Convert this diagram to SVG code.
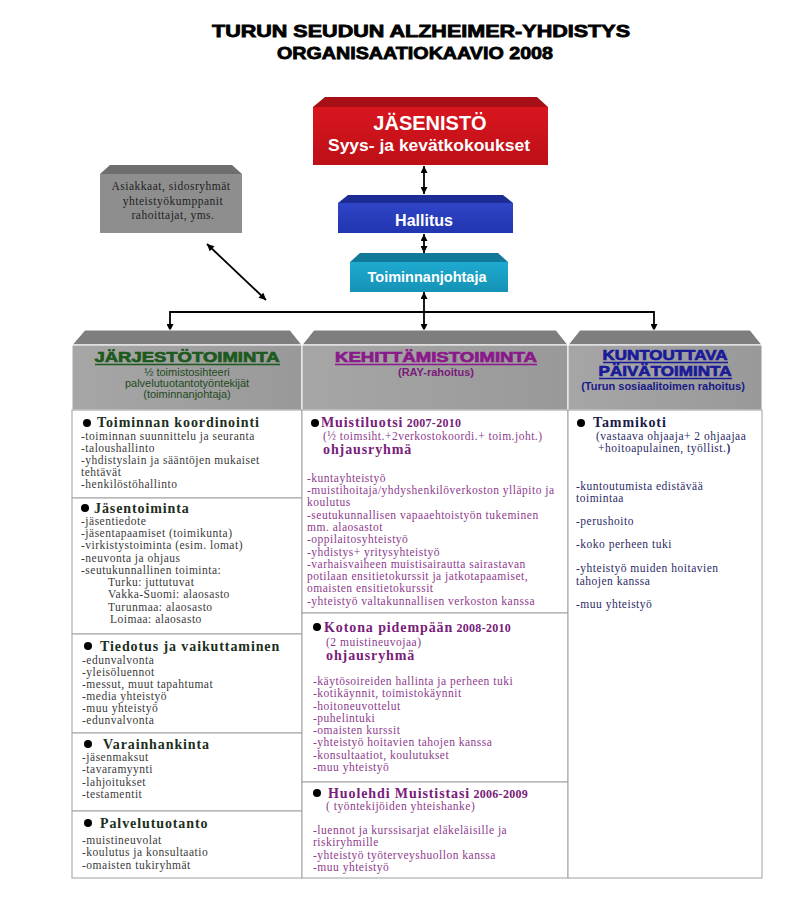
<svg xmlns="http://www.w3.org/2000/svg" width="800" height="915" viewBox="0 0 800 915">
<defs>
<marker id="ah" viewBox="0 0 10 10" refX="10" refY="5" markerWidth="8" markerHeight="7" markerUnits="userSpaceOnUse" orient="auto-start-reverse">
<path d="M0,0 L10,5 L0,10 z" fill="#000"/>
</marker>
<linearGradient id="gred" x1="0" y1="0" x2="0" y2="1"><stop offset="0" stop-color="#d8161f"/><stop offset="1" stop-color="#bd0f17"/></linearGradient>
<linearGradient id="gblue" x1="0" y1="0" x2="0" y2="1"><stop offset="0" stop-color="#2f45c8"/><stop offset="1" stop-color="#2235b0"/></linearGradient>
<linearGradient id="gteal" x1="0" y1="0" x2="0" y2="1"><stop offset="0" stop-color="#1eaad0"/><stop offset="1" stop-color="#1592b6"/></linearGradient>
<linearGradient id="ggray" x1="0" y1="0" x2="1" y2="0"><stop offset="0" stop-color="#a6a6a6"/><stop offset="1" stop-color="#999"/></linearGradient>
</defs>
<style>
.title{font-family:"Liberation Sans",Arial,sans-serif;font-weight:bold;font-size:17px;fill:#000;stroke:#000;stroke-width:0.8px}
.wb{font-family:"Liberation Sans",Arial,sans-serif;font-weight:bold;fill:#fff;text-anchor:middle}
.hd{font-family:"Liberation Sans",Arial,sans-serif;font-weight:bold;font-size:15px;text-anchor:middle;stroke-width:0.7px}
.hs{font-family:"Liberation Sans",Arial,sans-serif;font-size:11px;text-anchor:middle}
.sec{fill:#fff;stroke:#a0a0a0;stroke-width:1}
.hf{fill:url(#ggray);stroke:#fff;stroke-width:1}
.ht{fill:#7e7e7e;stroke:#fff;stroke-width:1}
.b{font-family:"Liberation Serif","Times New Roman",serif;font-size:11.5px;letter-spacing:0.5px}
.h{font-family:"Liberation Serif","Times New Roman",serif;font-size:14px;font-weight:bold;letter-spacing:0.9px}
.hy{font-size:12px;letter-spacing:0.3px}
.lb{fill:#3a3a3a}.lh{fill:#1c2e1c}
.mb{fill:#8e3b8e}.mh{fill:#78207a}
.rb{fill:#2b2b66}.rh{fill:#1a1a48}
.con{stroke:#000;stroke-width:1.8;fill:none}
</style>

<g id="title">
<text class="title" x="421" y="37" text-anchor="middle" textLength="418" lengthAdjust="spacingAndGlyphs">TURUN SEUDUN ALZHEIMER-YHDISTYS</text>
<text class="title" x="415" y="59" text-anchor="middle" textLength="276" lengthAdjust="spacingAndGlyphs">ORGANISAATIOKAAVIO 2008</text>
</g>

<g id="jasenisto">
<polygon points="325,97 537,97 548,107 313,107" fill="#a50f15"/>
<rect x="313" y="107" width="235" height="58" fill="url(#gred)"/>
<text class="wb" x="430" y="130" font-size="20">JÄSENISTÖ</text>
<text class="wb" x="429" y="151" font-size="17" textLength="202" lengthAdjust="spacingAndGlyphs">Syys- ja kevätkokoukset</text>
</g>

<g id="hallitus">
<polygon points="348,195 503,195 513,203 338,203" fill="#1c2c95"/>
<rect x="338" y="203" width="175" height="30" fill="url(#gblue)"/>
<text class="wb" x="424" y="226" font-size="16">Hallitus</text>
</g>

<g id="toiminnanjohtaja">
<polygon points="360,253 498,253 508,262 350,262" fill="#127a98"/>
<rect x="350" y="262" width="158" height="30" fill="url(#gteal)"/>
<text class="wb" x="427" y="282" font-size="14.5">Toiminnanjohtaja</text>
</g>

<g id="sidosryhmat">
<polygon points="110,165 232,165 242,174 100,174" fill="#6e6e6e"/>
<rect x="100" y="174" width="142" height="59" fill="#8e8e8e"/>
<text class="b" x="171" y="190" text-anchor="middle" font-size="13.5" letter-spacing="0.2" fill="#1e1e1e">Asiakkaat, sidosryhmät</text>
<text class="b" x="173" y="205" text-anchor="middle" font-size="13.5" letter-spacing="0.2" fill="#1e1e1e">yhteistyökumppanit</text>
<text class="b" x="173" y="219" text-anchor="middle" font-size="13.5" letter-spacing="0.2" fill="#1e1e1e">rahoittajat, yms.</text>
</g>

<g id="connectors">
<line class="con" x1="424" y1="166" x2="424" y2="194" marker-start="url(#ah)" marker-end="url(#ah)"/>
<line class="con" x1="424" y1="234" x2="424" y2="253" marker-start="url(#ah)" marker-end="url(#ah)"/>
<line class="con" x1="424" y1="292" x2="424" y2="331" marker-start="url(#ah)" marker-end="url(#ah)"/>
<line class="con" x1="170" y1="312" x2="654" y2="312"/>
<line class="con" x1="170" y1="311" x2="170" y2="331" marker-end="url(#ah)"/>
<line class="con" x1="654" y1="311" x2="654" y2="331" marker-end="url(#ah)"/>
<line class="con" x1="207" y1="244" x2="266" y2="300" stroke-width="1.2" marker-start="url(#ah)" marker-end="url(#ah)"/>
</g>

<g id="jarjestotoiminta">
<polygon class="ht" points="85,330 290,330 302,345 72,345"/>
<rect class="hf" x="72" y="345" width="230" height="65"/>
<text class="hd" x="187" y="362" fill="#1d5a1d" stroke="#1d5a1d" textLength="185" lengthAdjust="spacingAndGlyphs">JÄRJESTÖTOIMINTA</text>
<line x1="95" y1="364.5" x2="280" y2="364.5" stroke="#1d5a1d" stroke-width="1.3"/>
<text class="hs" x="187" y="376" fill="#1d4a1d">½ toimistosihteeri</text>
<text class="hs" x="187" y="387" fill="#1d4a1d">palvelutuotantotyöntekijät</text>
<text class="hs" x="187" y="398" fill="#1d4a1d">(toiminnanjohtaja)</text>
</g>

<g id="kehittamistoiminta">
<polygon class="ht" points="314,330 556,330 568,345 302,345"/>
<rect class="hf" x="302" y="345" width="266" height="65"/>
<text class="hd" x="436" y="362" fill="#8a1a8a" stroke="#8a1a8a" textLength="202" lengthAdjust="spacingAndGlyphs">KEHITTÄMISTOIMINTA</text>
<line x1="335" y1="364.5" x2="537" y2="364.5" stroke="#8a1a8a" stroke-width="1.3"/>
<text class="hs" x="436" y="376" fill="#7a1a7a" font-weight="bold">(RAY-rahoitus)</text>
</g>

<g id="kuntouttava">
<polygon class="ht" points="580,330 750,330 762,345 568,345"/>
<rect class="hf" x="568" y="345" width="194" height="65"/>
<text class="hd" x="665" y="360" fill="#1a1a99" stroke="#1a1a99" textLength="125" lengthAdjust="spacingAndGlyphs">KUNTOUTTAVA</text>
<line x1="603" y1="362.5" x2="728" y2="362.5" stroke="#1a1a99" stroke-width="1.3"/>
<text class="hd" x="665" y="376" fill="#1a1a99" stroke="#1a1a99" textLength="133" lengthAdjust="spacingAndGlyphs">PÄIVÄTOIMINTA</text>
<line x1="599" y1="378.5" x2="732" y2="378.5" stroke="#1a1a99" stroke-width="1.3"/>
<text class="hs" x="663" y="390" fill="#1a1a88" font-weight="bold">(Turun sosiaalitoimen rahoitus)</text>
</g>

<g id="koordinointi">
<rect class="sec" x="72" y="410" width="230" height="88"/>
<circle cx="87" cy="423" r="4" fill="#000"/>
<text class="h lh" x="97" y="427">Toiminnan koordinointi</text>
<text class="b lb" x="81" y="440">-toiminnan suunnittelu ja seuranta</text>
<text class="b lb" x="81" y="452">-taloushallinto</text>
<text class="b lb" x="81" y="464">-yhdistyslain ja sääntöjen mukaiset</text>
<text class="b lb" x="81" y="476">tehtävät</text>
<text class="b lb" x="81" y="488">-henkilöstöhallinto</text>
</g>

<g id="jasentoiminta">
<rect class="sec" x="72" y="498" width="230" height="136"/>
<circle cx="85" cy="508" r="4" fill="#000"/>
<text class="h lh" x="94" y="513">Jäsentoiminta</text>
<text class="b lb" x="81" y="525">-jäsentiedote</text>
<text class="b lb" x="81" y="537">-jäsentapaamiset (toimikunta)</text>
<text class="b lb" x="81" y="549">-virkistystoiminta (esim. lomat)</text>
<text class="b lb" x="81" y="562">-neuvonta ja ohjaus</text>
<text class="b lb" x="81" y="574">-seutukunnallinen toiminta:</text>
<text class="b lb" x="108" y="586">Turku: juttutuvat</text>
<text class="b lb" x="108" y="598">Vakka-Suomi: alaosasto</text>
<text class="b lb" x="108" y="611">Turunmaa: alaosasto</text>
<text class="b lb" x="110" y="623">Loimaa: alaosasto</text>
</g>

<g id="tiedotus">
<rect class="sec" x="72" y="634" width="230" height="99"/>
<circle cx="88" cy="646" r="4" fill="#000"/>
<text class="h lh" x="100" y="651">Tiedotus ja vaikuttaminen</text>
<text class="b lb" x="82" y="664">-edunvalvonta</text>
<text class="b lb" x="82" y="676">-yleisöluennot</text>
<text class="b lb" x="82" y="688">-messut, muut tapahtumat</text>
<text class="b lb" x="82" y="700">-media yhteistyö</text>
<text class="b lb" x="82" y="712">-muu yhteistyö</text>
<text class="b lb" x="82" y="724">-edunvalvonta</text>
</g>

<g id="varainhankinta">
<rect class="sec" x="72" y="733" width="230" height="78"/>
<circle cx="88" cy="744" r="4" fill="#000"/>
<text class="h lh" x="103" y="749">Varainhankinta</text>
<text class="b lb" x="82" y="761">-jäsenmaksut</text>
<text class="b lb" x="82" y="773">-tavaramyynti</text>
<text class="b lb" x="82" y="786">-lahjoitukset</text>
<text class="b lb" x="82" y="798">-testamentit</text>
</g>

<g id="palvelutuotanto">
<rect class="sec" x="72" y="811" width="230" height="67"/>
<circle cx="88" cy="823" r="4" fill="#000"/>
<text class="h lh" x="100" y="828">Palvelutuotanto</text>
<text class="b lb" x="82" y="844">-muistineuvolat</text>
<text class="b lb" x="82" y="856">-koulutus ja konsultaatio</text>
<text class="b lb" x="82" y="869">-omaisten tukiryhmät</text>
</g>

<g id="muistiluotsi">
<rect class="sec" x="302" y="410" width="266" height="203"/>
<circle cx="315" cy="423" r="4" fill="#000"/>
<text class="h mh" x="321" y="427">Muistiluotsi<tspan class="hy"> 2007-2010</tspan></text>
<text class="b mb" x="323" y="440">(½ toimsiht.+2verkostokoordi.+ toim.joht.)</text>
<text class="h mh" x="323" y="454">ohjausryhmä</text>
<text class="b mb" x="307" y="482">-kuntayhteistyö</text>
<text class="b mb" x="307" y="494">-muistihoitaja/yhdyshenkilöverkoston ylläpito ja</text>
<text class="b mb" x="307" y="506">koulutus</text>
<text class="b mb" x="307" y="519">-seutukunnallisen vapaaehtoistyön tukeminen</text>
<text class="b mb" x="307" y="531">mm. alaosastot</text>
<text class="b mb" x="307" y="543">-oppilaitosyhteistyö</text>
<text class="b mb" x="307" y="556">-yhdistys+ yritysyhteistyö</text>
<text class="b mb" x="307" y="568">-varhaisvaiheen muistisairautta sairastavan</text>
<text class="b mb" x="307" y="580">potilaan ensitietokurssit ja jatkotapaamiset,</text>
<text class="b mb" x="307" y="592">omaisten ensitietokurssit</text>
<text class="b mb" x="307" y="605">-yhteistyö valtakunnallisen  verkoston kanssa</text>
</g>

<g id="kotona">
<rect class="sec" x="302" y="613" width="266" height="169"/>
<circle cx="317" cy="627" r="4" fill="#000"/>
<text class="h mh" x="324" y="632">Kotona pidempään<tspan class="hy"> 2008-2010</tspan></text>
<text class="b mb" x="326" y="646">(2 muistineuvojaa)</text>
<text class="h mh" x="326" y="660">ohjausryhmä</text>
<text class="b mb" x="313" y="685">-käytösoireiden hallinta ja perheen tuki</text>
<text class="b mb" x="313" y="697">-kotikäynnit, toimistokäynnit</text>
<text class="b mb" x="313" y="710">-hoitoneuvottelut</text>
<text class="b mb" x="313" y="722">-puhelintuki</text>
<text class="b mb" x="313" y="734">-omaisten kurssit</text>
<text class="b mb" x="313" y="746">-yhteistyö hoitavien tahojen kanssa</text>
<text class="b mb" x="313" y="759">-konsultaatiot, koulutukset</text>
<text class="b mb" x="313" y="771">-muu yhteistyö</text>
</g>

<g id="huolehdi">
<rect class="sec" x="302" y="782" width="266" height="96"/>
<circle cx="317" cy="793" r="4" fill="#000"/>
<text class="h mh" x="328" y="798">Huolehdi Muististasi<tspan class="hy"> 2006-2009</tspan></text>
<text class="b mb" x="326" y="810">( työntekijöiden yhteishanke)</text>
<text class="b mb" x="313" y="834">-luennot ja kurssisarjat eläkeläisille ja</text>
<text class="b mb" x="313" y="846">riskiryhmille</text>
<text class="b mb" x="313" y="859">-yhteistyö työterveyshuollon kanssa</text>
<text class="b mb" x="313" y="871">-muu yhteistyö</text>
</g>

<g id="tammikoti">
<rect class="sec" x="568" y="410" width="194" height="468"/>
<circle cx="581" cy="423" r="4" fill="#000"/>
<text class="h rh" x="593" y="427">Tammikoti</text>
<text class="b rb" x="596" y="440">(vastaava ohjaaja+ 2 ohjaajaa</text>
<text class="b rb" x="598" y="452">+hoitoapulainen, työllist.<tspan font-weight="bold">)</tspan></text>
<text class="b rb" x="576" y="490">-kuntoutumista edistävää</text>
<text class="b rb" x="576" y="502">toimintaa</text>
<text class="b rb" x="576" y="525">-perushoito</text>
<text class="b rb" x="576" y="548">-koko perheen tuki</text>
<text class="b rb" x="576" y="572">-yhteistyö muiden hoitavien</text>
<text class="b rb" x="576" y="585">tahojen kanssa</text>
<text class="b rb" x="576" y="608">-muu yhteistyö</text>
</g>
</svg>
